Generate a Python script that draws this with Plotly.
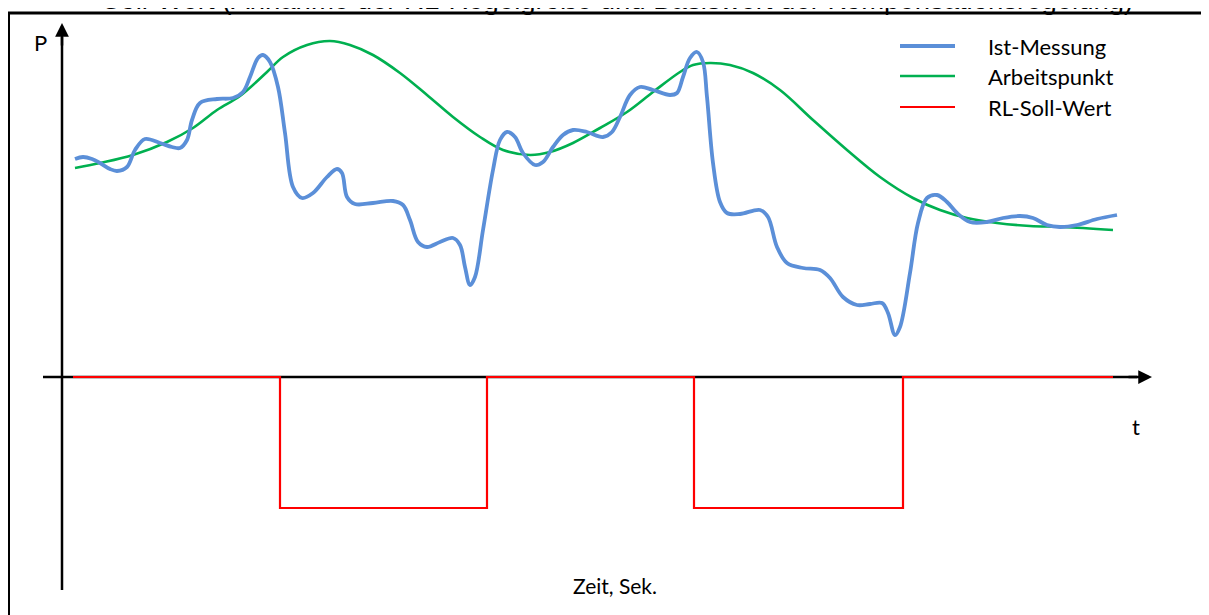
import plotly.graph_objects as go

ist_t = [1.3, 2.1, 3.0, 3.8, 4.8, 5.5, 6.5, 7.3, 8.3, 9.8, 11.0, 11.8, 12.5, 13.0,
         13.8, 15.5, 17.1, 18.1, 18.8, 19.6, 20.1, 20.8, 21.6, 22.3, 23.1, 24.0,
         25.1, 26.5, 27.5, 28.0, 28.5, 29.3, 31.1, 33.1, 34.1, 34.8, 35.6, 36.5,
         37.8, 39.1, 39.8, 40.3, 40.8, 41.3, 42.1, 43.1, 43.8, 44.5, 45.3, 46.1,
         47.3, 48.1, 49.1, 50.1, 51.1, 52.5, 54.1, 55.0, 55.8, 56.8, 57.8, 59.1,
         60.8, 61.5, 62.1, 62.8, 63.5, 64.1, 64.5, 65.1, 65.8, 66.5, 67.8, 69.8,
         70.6, 71.5, 72.5, 74.1, 75.8, 76.8, 78.1, 79.5, 80.8, 82.0, 82.6, 83.3,
         83.8, 84.8, 85.6, 86.5, 87.5, 88.5, 89.5, 90.8, 92.5, 94.1, 95.8, 97.1,
         98.5, 99.8, 101.5, 103.5, 105.5]
ist_p = [21.8, 22.0, 21.8, 21.4, 20.8, 20.6, 21.0, 22.7, 23.8, 23.4, 23.0, 22.9, 23.7, 25.7,
         27.4, 27.8, 27.9, 28.5, 30.0, 31.9, 32.2, 31.5, 29.0, 24.4, 19.0, 17.9,
         18.4, 20.0, 20.8, 20.4, 18.0, 17.3, 17.4, 17.6, 17.2, 15.7, 13.5, 13.0,
         13.5, 13.9, 13.2, 11.0, 9.2, 10.0, 14.7, 20.7, 23.7, 24.5, 24.0, 22.4,
         21.2, 21.5, 23.0, 24.2, 24.7, 24.5, 24.0, 24.5, 26.0, 28.2, 29.0, 28.7,
         28.2, 28.4, 30.0, 31.9, 32.5, 31.5, 28.0, 21.4, 17.5, 16.4, 16.3, 16.7,
         16.0, 13.0, 11.4, 10.9, 10.7, 9.9, 8.0, 7.2, 7.3, 7.4, 6.4, 4.2,
         5.0, 10.4, 15.4, 17.9, 18.2, 17.5, 16.4, 15.5, 15.5, 15.9, 16.1, 15.9,
         15.2, 15.0, 15.2, 15.8, 16.2]

ap_t = [1.3, 3.8, 7.1, 10.5, 13.1, 15.5, 17.8, 20.5, 22.1, 24.5, 26.8, 28.8, 31.1,
        33.8, 36.5, 39.1, 41.8, 44.1, 46.8, 48.8, 51.1, 53.8, 56.5, 59.1, 61.8,
        63.1, 64.8, 66.8, 69.1, 71.8, 75.1, 78.5, 81.8, 85.1, 87.8, 90.5, 93.5,
        96.8, 100.1, 105.1]
ap_p = [20.9, 21.4, 22.2, 23.5, 24.9, 26.7, 28.1, 30.5, 32.0, 33.2, 33.6, 33.2, 32.2,
        30.4, 28.2, 26.0, 24.0, 22.7, 22.2, 22.5, 23.4, 24.9, 26.5, 28.5, 30.5,
        31.2, 31.4, 31.2, 30.4, 28.7, 25.7, 22.7, 20.0, 17.9, 16.7, 15.9, 15.4,
        15.1, 15.0, 14.7]

rl_t = [1.1, 21.8, 42.5, 63.2, 84.1, 105.1]
rl_p = [0, -13.1, 0, -13.1, 0, 0]

legend_names = ['Ist-Messung', 'Arbeitspunkt', 'RL-Soll-Wert']

BLUE = '#5b8fd8'
GREEN = '#00b050'
RED = '#ff0000'
FONT = 'Lato'

trace_ist = go.Scatter(x=ist_t, y=ist_p, mode='lines', name=legend_names[0],
                       line=dict(color=BLUE, width=3.8, shape='spline', smoothing=1.0))
trace_ap = go.Scatter(x=ap_t, y=ap_p, mode='lines', name=legend_names[1],
                      line=dict(color=GREEN, width=2.6, shape='spline', smoothing=1.0))
trace_rl = go.Scatter(x=rl_t, y=rl_p, mode='lines', name=legend_names[2],
                      line=dict(color=RED, width=2.2, shape='hv'))

shapes = [
    # Rahmen
    dict(type='rect', xref='paper', yref='paper', x0=0.5 / 1209, x1=1.01,
         y0=-0.01, y1=1 - 5 / 615, line=dict(color='black', width=3)),
    # Achsen unter den Kurven
    dict(type='line', xref='x', yref='y', x0=0, x1=0, y0=-21.3, y1=34.0,
         layer='below', line=dict(color='black', width=2.5)),
    dict(type='line', xref='x', yref='y', x0=-1.9, x1=107.5, y0=0, y1=0,
         layer='below', line=dict(color='black', width=2.5)),
]
annotations = [
    # Pfeilspitzen
    dict(x=0, y=35.4, ax=0, ay=33.0, xref='x', yref='y', axref='x', ayref='y',
         showarrow=True, arrowhead=2, arrowsize=1.1, arrowwidth=2.5,
         arrowcolor='black', standoff=0, text=''),
    dict(x=109.0, y=0, ax=106.5, ay=0, xref='x', yref='y', axref='x', ayref='y',
         showarrow=True, arrowhead=2, arrowsize=1.1, arrowwidth=2.5,
         arrowcolor='black', standoff=0, text=''),
    dict(x=-2.2, y=33.5, text='P', showarrow=False,
         font=dict(family=FONT, size=22, color='black')),
    dict(x=107.4, y=-4.9, text='t', showarrow=False,
         font=dict(family=FONT, size=22, color='black')),
    dict(x=55.3, y=-20.8, text='Zeit, Sek.', showarrow=False,
         font=dict(family=FONT, size=21, color='black')),
    # abgeschnittener Titel
    dict(x=609 / 1209, y=1 - 9 / 615, xref='paper', yref='paper',
         yanchor='bottom', showarrow=False,
         text='Soll-Wert (Annahme der RL-Regelgröße und Basiswert der Kompensationsregelung)',
         font=dict(family='Liberation Sans', size=27.5, color='black')),
]

# Legende von Hand
for name, color, width, py in zip(legend_names, [BLUE, GREEN, RED],
                                  [3.8, 2.6, 2.2], [33.1, 30.1, 27.0]):
    shapes.append(dict(type='line', xref='x', yref='y', x0=83.8, x1=89.3,
                       y0=py, y1=py, line=dict(color=color, width=width)))
    annotations.append(dict(x=92.4, y=py, xanchor='left', text=name,
                            showarrow=False,
                            font=dict(family=FONT, size=22, color='black')))

layout = go.Layout(
    width=1209,
    height=615,
    margin=dict(l=0, r=0, t=0, b=0),
    paper_bgcolor='white',
    plot_bgcolor='white',
    showlegend=False,
    # Seite hat 8 px Rand, daher Bereich um 8 px verschoben
    xaxis=dict(range=[-5.4, 115.5], visible=False, fixedrange=True),
    yaxis=dict(range=[-24.6, 36.9], visible=False, fixedrange=True),
    shapes=shapes,
    annotations=annotations,
)

fig = go.Figure(data=[trace_rl, trace_ap, trace_ist], layout=layout)
fig.write_html("out.html")
